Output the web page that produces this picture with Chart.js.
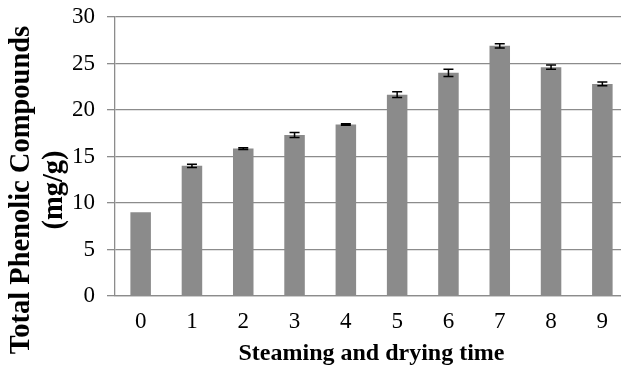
<!DOCTYPE html>
<html>
<head>
<meta charset="utf-8">
<script src="https://cdn.jsdelivr.net/npm/chart.js@4.4.1/dist/chart.umd.min.js"></script>
<style>
  html, body { margin: 0; padding: 0; background: #fff; }
  #wrap { width: 621px; height: 372px; overflow: hidden; }
</style>
</head>
<body>
<div id="wrap"><canvas id="phenolChart" width="628" height="372"></canvas></div>
<script>
// Total phenolic compounds vs. steaming/drying cycles, with error bars
const times = ["0", "1", "2", "3", "4", "5", "6", "7", "8", "9"];
const phenolic = [9.0, 14.0, 15.85, 17.3, 18.45, 21.65, 24.0, 26.9, 24.6, 22.8];
const errors = [0, 0.18, 0.1, 0.27, 0.08, 0.3, 0.39, 0.23, 0.23, 0.2];
const yTitle = ["Total Phenolic Compounds", "(mg/g)"];
const xTitle = "Steaming and drying time";

const serif = "'Liberation Serif', 'Times New Roman', serif";
const gridGray = "#8c8c8c";

// draws the black error bars on top of the bars
const errorBars = {
    id: "errorBars",
    afterDatasetsDraw(chart) {
        const { ctx, scales: { x, y } } = chart;
        ctx.save();
        ctx.strokeStyle = "#000";
        ctx.lineWidth = 1.5;
        phenolic.forEach((v, i) => {
            if (!errors[i]) return;
            const cx = x.getPixelForValue(i);
            const top = y.getPixelForValue(v + errors[i]);
            const bot = y.getPixelForValue(v - errors[i]);
            ctx.beginPath();
            ctx.moveTo(cx, top); ctx.lineTo(cx, bot);
            ctx.moveTo(cx - 5, top); ctx.lineTo(cx + 5, top);
            ctx.moveTo(cx - 5, bot); ctx.lineTo(cx + 5, bot);
            ctx.stroke();
        });
        ctx.restore();
    }
};

// y title is centred on the whole canvas, like the original, so drawn by hand
const yTitlePlugin = {
    id: "yTitle",
    afterDraw(chart) {
        const ctx = chart.ctx;
        ctx.save();
        ctx.font = "bold 28.5px " + serif;
        ctx.fillStyle = "#000";
        ctx.textAlign = "center";
        ctx.textBaseline = "middle";
        ctx.translate(0, 190);
        ctx.rotate(-Math.PI / 2);
        ctx.fillText(yTitle[0], 0, 22);
        ctx.fillText(yTitle[1], 0, 55);
        ctx.restore();
    }
};

new Chart(document.getElementById("phenolChart"), {
    type: "bar",
    data: {
        labels: times,
        datasets: [{
            data: phenolic,
            backgroundColor: "#8b8b8b",
            categoryPercentage: 1,
            barPercentage: 0.4
        }]
    },
    options: {
        responsive: false,
        animation: false,
        layout: { padding: 0 },
        plugins: { legend: { display: false }, tooltip: { enabled: false } },
        scales: {
            x: {
                grid: { display: false },
                border: { display: true, color: gridGray, width: 1.3 },
                ticks: { color: "#000", font: { family: serif, size: 23 }, padding: 4 },
                title: { display: true, text: xTitle, color: "#000", font: { family: serif, size: 24, weight: "bold" }, padding: { top: 0, bottom: 4 } },
                afterFit: (s) => { s.height = 76; }
            },
            y: {
                min: 0, max: 30,
                ticks: { stepSize: 5, color: "#000", font: { family: serif, size: 23 }, padding: 12 },
                grid: { color: gridGray, lineWidth: 1.3, tickLength: 8 },
                border: { display: true, color: gridGray, width: 1.3 },
                afterFit: (s) => { s.width = 115; s.paddingTop = 17; }
            }
        }
    },
    plugins: [errorBars, yTitlePlugin]
});
</script>
</body>
</html>
